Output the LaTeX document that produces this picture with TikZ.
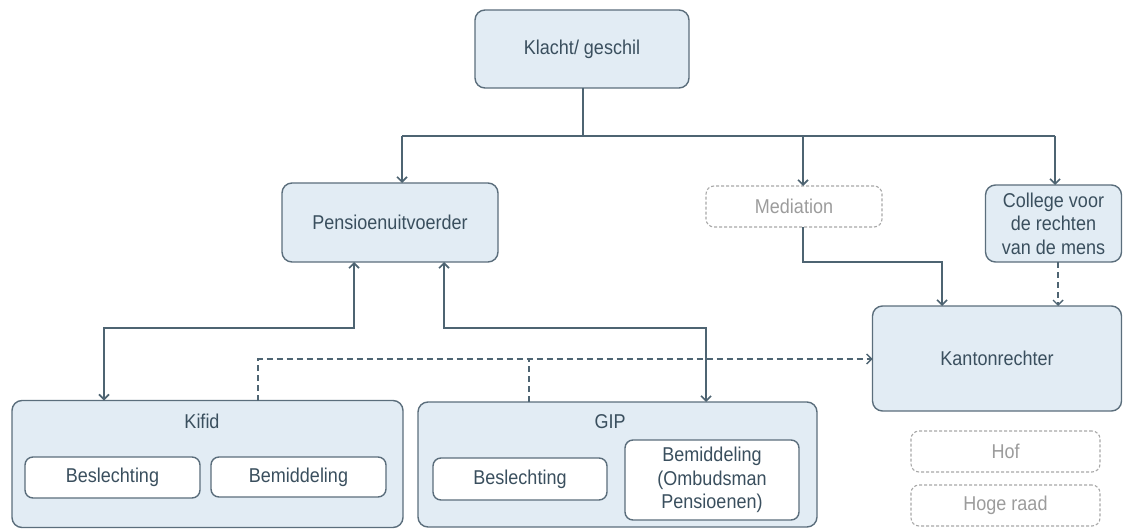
\documentclass[tikz,border=0pt]{standalone}
\usepackage{fontspec}
\setmainfont{Liberation Sans}[FakeStretch=0.9]
\usetikzlibrary{arrows.meta}
\definecolor{boxfill}{HTML}{E2ECF4}
\definecolor{boxline}{HTML}{5B6E7C}
\definecolor{txt}{HTML}{3A4F5E}
\definecolor{conn}{HTML}{4E6472}
\definecolor{greyl}{HTML}{A8A8A8}
\definecolor{greyt}{HTML}{9C9C9C}
\tikzset{
  every node/.style={font=\fontsize{20}{23.5}\selectfont, text=txt, outer sep=0pt, inner sep=0pt, align=center},
  bluebox/.style={draw=boxline, line width=1.4pt, fill=boxfill, rounded corners=10pt},
  whitebox/.style={draw=boxline, line width=1.4pt, fill=white, rounded corners=8pt},
  greybox/.style={draw=greyl, line width=1.1pt, dash pattern=on 3pt off 2pt, fill=white, rounded corners=8pt, text=greyt},
  arr/.style={draw=conn, line width=1.6pt, -{Straight Barb[length=5pt,width=10pt]}},
  arrb/.style={draw=conn, line width=1.6pt, {Straight Barb[length=5pt,width=10pt]}-{Straight Barb[length=5pt,width=10pt]}},
  ln/.style={draw=conn, line width=1.6pt},
  darr/.style={draw=conn, line width=1.4pt, dash pattern=on 6pt off 4pt, -{Straight Barb[length=5pt,width=10pt]}},
  dln/.style={draw=conn, line width=1.4pt, dash pattern=on 6pt off 4pt},
}
\begin{document}
\begin{tikzpicture}[x=1pt,y=-1pt]
\useasboundingbox (0,0) rectangle (1123,529);
% boxes
\node[bluebox, minimum width=214pt, minimum height=78pt] (klacht) at (582,49) {Klacht/ geschil};
\node[bluebox, minimum width=216pt, minimum height=79pt] (pens) at (390,222.5) {Pensioenuitvoerder};
\node[greybox, minimum width=176pt, minimum height=41pt] (mediation) at (794,206.5) {Mediation};
\node[bluebox, minimum width=136pt, minimum height=77pt] (college) at (1053.5,223.5) {College voor\\de rechten\\van de mens};
\node[bluebox, minimum width=249pt, minimum height=105pt] (kanton) at (997,358.5) {Kantonrechter};
\node[greybox, minimum width=189pt, minimum height=41pt] (hof) at (1005.5,451.5) {Hof};
\node[greybox, minimum width=189pt, minimum height=41pt] (hoge) at (1005.5,505.5) {Hoge raad};
\node[bluebox, minimum width=391pt, minimum height=127pt] (kifid) at (207.5,464) {};
\node (kifidlabel) at (202,421) {Kifid};
\node[whitebox, minimum width=175pt, minimum height=41pt] (kbes) at (112.5,477.5) {Beslechting};
\node[whitebox, minimum width=175pt, minimum height=40pt] (kbem) at (298.5,477) {Bemiddeling};
\node[bluebox, minimum width=399pt, minimum height=125pt] (gip) at (617.5,464.5) {};
\node (giplabel) at (610,422) {GIP};
\node[whitebox, minimum width=174pt, minimum height=42pt] (gbes) at (520,479) {Beslechting};
\node[whitebox, minimum width=174pt, minimum height=80pt] (gbem) at (712,480) {Bemiddeling\\(Ombudsman\\Pensioenen)};
% connectors from Klacht
\coordinate (bus) at (583,136);
\coordinate (busl) at (402,136);
\coordinate (busm) at (803,136);
\coordinate (busr) at (1055,136);
\draw[ln] (klacht.south -| bus) -- (bus);
\draw[ln] (busl) -- (busr);
\draw[arr] (busl) -- (busl |- pens.north);
\draw[arr] (busm) -- (busm |- mediation.north);
\draw[arr] (busr) -- (busr |- college.north);
% mediation -> kantonrechter
\coordinate (m0) at (803,262);
\coordinate (m1) at (942,262);
\draw[arr] (m0 |- mediation.south) -- (m0) -- (m1) -- (m1 |- kanton.north);
% college -> kantonrechter (dashed)
\coordinate (c0) at (1058,280);
\draw[darr] (c0 |- college.south) -- (c0 |- kanton.north);
% pensioenuitvoerder <-> kifid / gip
\coordinate (p1) at (354,328);
\coordinate (k1) at (104,328);
\draw[arrb] (p1 |- pens.south) -- (p1) -- (k1) -- (k1 |- kifid.north);
\coordinate (p2) at (444,328);
\coordinate (g1) at (706,328);
\draw[arrb] (p2 |- pens.south) -- (p2) -- (g1) -- (g1 |- gip.north);
% dashed to kantonrechter
\coordinate (d1) at (258,359);
\coordinate (d2) at (529,359);
\draw[darr] (d1 |- kifid.north) -- (d1) -- (d1 -| kanton.west);
\draw[dln] (d2 |- gip.north) -- (d2);
\end{tikzpicture}
\end{document}
